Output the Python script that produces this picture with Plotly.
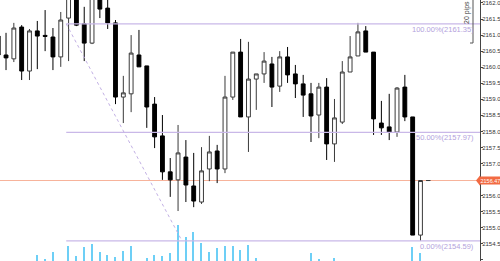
import plotly.graph_objects as go

# candle index (1-based)
idx = list(range(1, 57))

opens = [2160.97, 2160.38, 2160.26, 2161.25, 2159.88, 2161.13, 2160.99, 2160.94, 2160.32, 2161.53,
         2162.34, 2161.35, 2160.75, 2162.28, 2161.84, 2161.38, 2159.07, 2159.17, 2160.38, 2160.04,
         2158.85, 2157.86, 2156.74, 2156.49, 2157.20, 2156.30, 2155.80, 2156.83, 2157.39, 2156.83,
         2159.07, 2160.47, 2158.45, 2159.63, 2159.79, 2160.10, 2159.41, 2160.32, 2159.79, 2159.48,
         2159.17, 2158.51, 2159.38, 2157.61, 2158.29, 2159.85, 2160.35, 2161.13, 2160.47, 2158.26,
         2158.14, 2157.98, 2159.38, 2158.45, 2154.77, 2156.47]
highs = [2161.07, 2161.07, 2161.38, 2161.31, 2161.19, 2161.44, 2161.78, 2161.22, 2161.72, 2162.72,
         2162.47, 2161.88, 2162.34, 2162.41, 2162.15, 2161.47, 2159.73, 2161.00, 2161.16, 2160.04,
         2159.07, 2158.51, 2157.17, 2158.20, 2157.73, 2157.33, 2157.51, 2157.86, 2157.58, 2159.73,
         2160.47, 2160.88, 2160.79, 2159.79, 2160.47, 2160.32, 2160.50, 2160.63, 2160.07, 2159.76,
         2159.51, 2159.51, 2159.66, 2159.01, 2160.19, 2160.97, 2161.38, 2161.28, 2160.47, 2158.95,
         2159.17, 2159.38, 2159.76, 2158.45, 2156.47, 2156.47]
lows = [2160.29, 2159.91, 2160.16, 2159.60, 2159.60, 2159.94, 2160.50, 2159.91, 2160.01, 2160.19,
        2161.28, 2160.19, 2160.72, 2161.53, 2161.19, 2158.85, 2158.26, 2158.60, 2160.01, 2158.11,
        2157.48, 2156.49, 2155.96, 2155.52, 2155.80, 2155.64, 2155.74, 2156.45, 2156.39, 2156.70,
        2158.98, 2158.45, 2157.36, 2158.67, 2159.51, 2158.76, 2159.23, 2159.51, 2159.04, 2158.45,
        2157.67, 2157.79, 2157.11, 2157.05, 2158.23, 2159.85, 2160.35, 2160.47, 2157.89, 2157.89,
        2157.73, 2157.83, 2158.32, 2154.77, 2154.59, 2156.47]
closes = [2160.38, 2160.29, 2161.22, 2159.88, 2161.13, 2160.97, 2160.96, 2160.32, 2161.47, 2162.56,
          2161.31, 2160.75, 2162.19, 2161.81, 2161.38, 2159.07, 2159.20, 2160.44, 2160.01, 2158.76,
          2157.83, 2156.74, 2156.49, 2157.33, 2156.33, 2155.83, 2156.77, 2157.36, 2156.83, 2159.07,
          2160.47, 2158.45, 2159.63, 2159.79, 2160.19, 2159.38, 2160.32, 2159.76, 2159.48, 2159.13,
          2158.48, 2159.38, 2157.61, 2158.42, 2159.85, 2160.32, 2161.10, 2160.47, 2158.39, 2158.11,
          2157.98, 2159.35, 2158.45, 2154.77, 2156.47, 2156.47]
volumes = [0, 0, 0, 0, 0, 60, 20, 90, 0, 150,
           50, 140, 170, 90, 60, 40, 100, 150, 0, 30,
           60, 50, 80, 360, 240, 290, 180, 90, 130, 150,
           150, 110, 160, 30, 0, 0, 0, 0, 0, 0,
           80, 20, 0, 30, 0, 0, 0, 0, 0, 0,
           0, 0, 0, 140, 80, 0]

fib_levels = [2161.35, 2157.97, 2154.59]
fib_labels = ["100.00%(2161.35)", "50.00%(2157.97)", "0.00%(2154.59)"]
current_price = 2156.47
fib_start_x = 9.7
diag_end_x = 24.5

tick_vals = [2154.0, 2154.5, 2155.0, 2155.5, 2156.0, 2157.0, 2157.5, 2158.0,
             2158.5, 2159.0, 2159.5, 2160.0, 2160.5, 2161.0, 2161.5, 2162.0]

X_RANGE = [1.23, 62.61]
Y_RANGE = [2153.963, 2162.093]

fig = go.Figure()

fig.add_trace(go.Bar(
    x=idx, y=volumes, yaxis="y2", width=0.2,
    marker=dict(color="#6dcff6", line=dict(width=0)),
    showlegend=False, hoverinfo="skip"))

fig.add_trace(go.Candlestick(
    x=idx, open=opens, high=highs, low=lows, close=closes,
    increasing=dict(line=dict(color="#3a3a3a", width=1), fillcolor="#ffffff"),
    decreasing=dict(line=dict(color="#000000", width=1), fillcolor="#000000"),
    whiskerwidth=0, showlegend=False))

fib_color = "#c9b8e8"
shapes = []
for lv in fib_levels:
    shapes.append(dict(type="line", xref="x", yref="y", x0=fib_start_x, x1=X_RANGE[1],
                       y0=lv, y1=lv, line=dict(color=fib_color, width=1.2)))
shapes.append(dict(type="line", xref="x", yref="y", x0=fib_start_x, x1=diag_end_x,
                   y0=fib_levels[0], y1=fib_levels[2],
                   line=dict(color="#c2b0e4", width=1, dash="dot")))
shapes.append(dict(type="line", xref="paper", yref="y", x0=0, x1=1,
                   y0=current_price, y1=current_price, layer="below",
                   line=dict(color="#f7b39b", width=1.2)))
# price pointer arrow
shapes.append(dict(type="path", xref="paper", yref="y",
                   path=f"M {476/480} {current_price} L {480/480} {current_price+0.16} L {480/480} {current_price-0.16} Z",
                   fillcolor="#f26b43", line=dict(width=0)))
# 20 pips bracket
shapes.append(dict(type="line", xref="paper", yref="paper", x0=473/480, x1=473/480,
                   y0=1, y1=1 - 43/261, line=dict(color="#555555", width=1)))
shapes.append(dict(type="line", xref="paper", yref="paper", x0=470/480, x1=473/480,
                   y0=1 - 43/261, y1=1 - 43/261, line=dict(color="#555555", width=1)))

annotations = []
for lv, lab in zip(fib_levels, fib_labels):
    annotations.append(dict(x=1, xref="paper", y=lv, yref="y", text=lab, showarrow=False,
                            xanchor="right", yanchor="top", xshift=-4, yshift=1,
                            font=dict(family="Liberation Sans, Arial", size=7.5, color="#b3a2dc")))
annotations.append(dict(x=1, xref="paper", y=current_price, yref="y", text=f"{current_price:.2f}",
                        showarrow=False, xanchor="left", yanchor="middle", xshift=-1,
                        bgcolor="#f26b43", borderpad=0.5,
                        font=dict(family="Liberation Sans, Arial", size=5.5, color="#ffffff")))
annotations.append(dict(x=467/480, xref="paper", y=1 - 13/261, yref="paper", text="20 pips",
                        showarrow=False, textangle=-90, xanchor="center", yanchor="middle",
                        font=dict(family="Liberation Sans, Arial", size=7, color="#444444")))

fig.update_layout(
    width=500, height=261,
    margin=dict(l=0, r=20, t=0, b=0, autoexpand=False),
    paper_bgcolor="#ffffff", plot_bgcolor="#ffffff",
    showlegend=False,
    xaxis=dict(range=X_RANGE, visible=False, rangeslider=dict(visible=False), fixedrange=True,
               automargin=False),
    yaxis=dict(range=Y_RANGE, side="right", showgrid=False, zeroline=False, automargin=False,
               showline=True, linecolor="#444444", linewidth=1,
               ticks="outside", ticklen=2, tickcolor="#444444",
               ticklabelstandoff=-2,
               tickvals=tick_vals, tickformat=".1f",
               tickfont=dict(family="Liberation Sans, Arial", size=6, color="#333333")),
    yaxis2=dict(range=[0, 2610], overlaying="y", visible=False, fixedrange=True),
    shapes=shapes, annotations=annotations,
    bargap=0,
)

fig.write_html("out.html")
